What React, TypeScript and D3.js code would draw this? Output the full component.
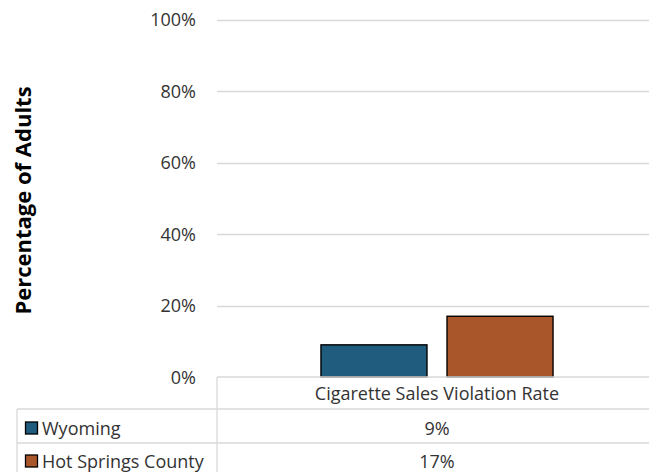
import { useRef, useEffect } from 'react'
import * as d3 from 'd3'

const categories = ['Cigarette Sales Violation Rate']
const seriesNames = ['Wyoming', 'Hot Springs County']
const seriesColors = ['#1f5c7e', '#a9572a']
const wyoming = [9]
const hotSprings = [17]
const yTicks = [0, 20, 40, 60, 80, 100]

export default function App() {
  const ref = useRef<SVGSVGElement>(null)

  useEffect(() => {
    if (!ref.current) return
    const svg = d3.select(ref.current)
    svg.selectAll('*').remove()

    const width = 649
    const height = 472
    // plot area runs a little past the right edge, as in the source picture
    const left = 217
    const right = 657
    const top = 19.7
    const bottom = 377
    const font = '"Open Sans", sans-serif'
    const gridColor = '#d9d9d9'
    const textColor = '#333333'

    const values = [wyoming, hotSprings]

    const y = d3.scaleLinear().domain([0, 100]).range([bottom, top])
    const x0 = d3.scaleBand().domain(categories).range([left, right]).paddingInner(0).paddingOuter(0.448)
    const x1 = d3
      .scaleBand()
      .domain(seriesNames)
      .range([0, x0.bandwidth()])
      .paddingInner(0.159)
      .paddingOuter(0)

    svg.attr('width', width).attr('height', height)

    // Gridlines
    svg
      .append('g')
      .selectAll('line')
      .data(yTicks.filter((t) => t > 0))
      .join('line')
      .attr('x1', left)
      .attr('x2', right)
      .attr('y1', (d) => Math.round(y(d)) + 0.5)
      .attr('y2', (d) => Math.round(y(d)) + 0.5)
      .attr('stroke', gridColor)
      .attr('stroke-width', 1.3)

    // Tick labels
    svg
      .append('g')
      .selectAll('text')
      .data(yTicks)
      .join('text')
      .attr('x', 196)
      .attr('y', (d) => y(d) + 6.5)
      .attr('text-anchor', 'end')
      .attr('font-family', font)
      .attr('font-size', 18)
      .attr('fill', textColor)
      .text((d) => `${d}%`)

    // Bars
    seriesNames.forEach((name, si) => {
      svg
        .append('g')
        .selectAll('rect')
        .data(categories)
        .join('rect')
        .attr('x', (c) => (x0(c) ?? 0) + (x1(name) ?? 0))
        .attr('y', (_c, i) => y(values[si][i]))
        .attr('width', x1.bandwidth())
        .attr('height', (_c, i) => bottom - y(values[si][i]))
        .attr('fill', seriesColors[si])
        .attr('stroke', '#000')
        .attr('stroke-width', 1.4)
    })

    // Y axis title
    svg
      .append('text')
      .attr('transform', `translate(31,200.5) rotate(-90)`)
      .attr('text-anchor', 'middle')
      .attr('font-family', font)
      .attr('font-size', 22)
      .attr('font-weight', 'bold')
      .attr('fill', '#000')
      .text('Percentage of Adults')

    // Data table
    const tableLeft = 17
    const rowLines = [377, 409, 443]
    const baselines = [399.5, 434.5, 467.5]
    const table = svg.append('g').attr('stroke', gridColor).attr('stroke-width', 1.3)
    table
      .append('line')
      .attr('x1', left).attr('x2', right)
      .attr('y1', rowLines[0]).attr('y2', rowLines[0])
    rowLines.slice(1).forEach((ty) => {
      table
        .append('line')
        .attr('x1', tableLeft).attr('x2', right)
        .attr('y1', ty).attr('y2', ty)
    })
    table
      .append('line')
      .attr('x1', left).attr('x2', left)
      .attr('y1', rowLines[0]).attr('y2', height)
    table
      .append('line')
      .attr('x1', tableLeft).attr('x2', tableLeft)
      .attr('y1', rowLines[1]).attr('y2', height)

    const labels = svg.append('g').attr('font-family', font).attr('font-size', 18).attr('fill', textColor)

    categories.forEach((c, ci) => {
      const cx = (x0(c) ?? 0) + x0.bandwidth() / 2
      labels
        .append('text')
        .attr('x', cx)
        .attr('y', baselines[0])
        .attr('text-anchor', 'middle')
        .text(c)
      seriesNames.forEach((_name, si) => {
        labels
          .append('text')
          .attr('x', cx)
          .attr('y', baselines[si + 1])
          .attr('text-anchor', 'middle')
          .text(`${values[si][ci]}%`)
      })
    })

    seriesNames.forEach((name, si) => {
      const by = baselines[si + 1]
      svg
        .append('rect')
        .attr('x', 25.5)
        .attr('y', by - 12.5)
        .attr('width', 12)
        .attr('height', 12)
        .attr('fill', seriesColors[si])
        .attr('stroke', '#000')
        .attr('stroke-width', 1.3)
      labels
        .append('text')
        .attr('x', 42)
        .attr('y', by)
        .text(name)
    })
  }, [])

  return <svg ref={ref} style={{ position: 'absolute', left: 0, top: 0, display: 'block' }} />
}
